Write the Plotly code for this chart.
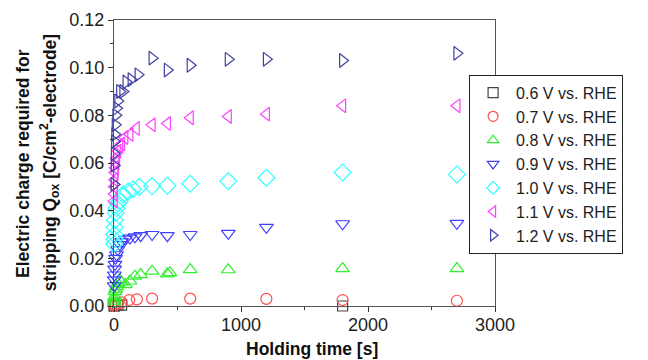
import plotly.graph_objects as go

# ---- data ----
t06 = [1, 3, 10, 30, 60, 1800]
v06 = [0.0, 0.0, 0.0002, 0.0003, 0.0004, 0.0]

t07 = [1, 3, 10, 30, 60, 120, 180, 300, 600, 1200, 1800, 2700]
v07 = [0.0, 0.0003, 0.0005, 0.001, 0.0015, 0.0025, 0.0028, 0.0031, 0.0031, 0.003, 0.0025, 0.0022]

t08 = [1, 2, 3, 5, 8, 12, 20, 30, 45, 60, 90, 125, 165, 210, 300, 420, 440, 600, 900, 1800, 2700]
v08 = [0.001, 0.002, 0.003, 0.004, 0.006, 0.007, 0.008, 0.0095, 0.011, 0.010, 0.009, 0.0105,
       0.0125, 0.0132, 0.0146, 0.0135, 0.0140, 0.0153, 0.0152, 0.0157, 0.0157]

t09 = [1, 2, 3, 5, 8, 12, 20, 30, 45, 60, 90, 125, 165, 210, 300, 420, 600, 900, 1200, 1800, 2700]
v09 = [0.0085, 0.011, 0.013, 0.0155, 0.0175, 0.020, 0.0215, 0.0237, 0.0258, 0.027, 0.028,
       0.0285, 0.029, 0.0295, 0.030, 0.0295, 0.030, 0.0305, 0.033, 0.0345, 0.0347]

t10 = [1, 2, 3, 5, 8, 12, 20, 30, 45, 70, 110, 150, 200, 300, 420, 600, 900, 1200, 1800, 2700]
v10 = [0.026, 0.028, 0.030, 0.033, 0.036, 0.039, 0.041, 0.043, 0.044, 0.0468, 0.048, 0.049,
       0.0500, 0.0503, 0.0505, 0.0513, 0.0524, 0.0538, 0.056, 0.0552]

t11 = [1, 2, 3, 5, 7, 10, 15, 20, 30, 45, 60, 85, 125, 175, 300, 420, 600, 900, 1200, 1800, 2700]
v11 = [0.044, 0.047, 0.050, 0.053, 0.056, 0.058, 0.060, 0.062, 0.065, 0.067, 0.068, 0.0707,
       0.072, 0.0745, 0.076, 0.0766, 0.079, 0.0795, 0.0805, 0.084, 0.084]

t12 = [1, 2, 3, 5, 7, 10, 15, 20, 30, 45, 70, 95, 135, 190, 300, 420, 600, 900, 1200, 1800, 2700]
v12 = [0.051, 0.059, 0.064, 0.069, 0.072, 0.076, 0.080, 0.083, 0.086, 0.090, 0.090, 0.094,
       0.095, 0.097, 0.104, 0.099, 0.101, 0.1035, 0.1035, 0.103, 0.106]

series_names = ["0.6 V vs. RHE", "0.7 V vs. RHE", "0.8 V vs. RHE", "0.9 V vs. RHE",
                "1.0 V vs. RHE", "1.1 V vs. RHE", "1.2 V vs. RHE"]
series_t = [t06, t07, t08, t09, t10, t11, t12]
series_v = [v06, v07, v08, v09, v10, v11, v12]
symbols = ["square-open", "circle-open", "triangle-up-open", "triangle-down-open",
           "diamond-open", "triangle-left-open", "triangle-right-open"]
colors = ["#444444", "#ff4d4d", "#33ee33", "#4040ff", "#33ffff", "#ff40ff", "#4040a0"]
sizes = [10, 11, 12, 12, 13, 12, 12]

FONT = "Liberation Sans, Arial, sans-serif"

fig = go.Figure()
for name, t, v, sym, col, sz in zip(series_names, series_t, series_v, symbols, colors, sizes):
    fig.add_trace(go.Scatter(
        x=t, y=v, mode="markers", name=name, showlegend=False, cliponaxis=False,
        marker=dict(symbol=sym, size=sz, color=col, line=dict(color=col, width=1.2)),
    ))
for i, (name, sym, col) in enumerate(zip(series_names, symbols, colors)):
    fig.add_trace(go.Scatter(
        x=[None], y=[None], mode="markers", name=name, legendgroup=f"g{i}",
        marker=dict(symbol=sym, size=10, color=col, line=dict(color=col, width=1.2)),
    ))

axis_font = dict(family=FONT, size=18, color="#222222")
fig.update_xaxes(
    range=[0, 3000], tickvals=[0, 1000, 2000, 3000], ticks="outside", ticklen=5,
    tickcolor="#333333", showline=True, linecolor="#555555", linewidth=1, mirror=True,
    showgrid=False, zeroline=False, tickfont=axis_font, automargin=False,
    ticklabelstandoff=-3,
    minor=dict(dtick=500, ticks="outside", ticklen=3, tickcolor="#333333", showgrid=False),
)
fig.update_yaxes(
    range=[0, 0.12], dtick=0.02, tickformat=".2f", ticks="outside", ticklen=5,
    tickcolor="#333333", showline=True, linecolor="#555555", linewidth=1, mirror=True,
    showgrid=False, zeroline=False, tickfont=axis_font, automargin=False,
    minor=dict(dtick=0.01, ticks="outside", ticklen=3, tickcolor="#333333", showgrid=False),
)

title_font = dict(family=FONT, size=17.5, color="#111111")
fig.add_annotation(text="<b>Holding time [s]</b>", xref="paper", yref="paper",
                   x=0.52, y=-0.149, xanchor="center", yanchor="middle",
                   showarrow=False, font=title_font)
fig.add_annotation(text="<b>Electric charge required for</b>", xref="paper", yref="paper",
                   x=-0.239, y=0.5, xanchor="center", yanchor="middle", textangle=-90,
                   showarrow=False, font=title_font)
fig.add_annotation(text="<b>stripping Q<sub>ox</sub> [C/cm<sup>2</sup>-electrode]</b>",
                   xref="paper", yref="paper", x=-0.170, y=0.5, xanchor="center",
                   yanchor="middle", textangle=-90, showarrow=False, font=title_font)

fig.update_layout(
    width=648, height=360,
    margin=dict(l=106, r=161, t=12, b=62),
    paper_bgcolor="white", plot_bgcolor="white",
    legend=dict(x=0.932, y=0.809, xanchor="left", yanchor="top",
                bgcolor="white", bordercolor="#222222", borderwidth=1,
                font=dict(family=FONT, size=16, color="#222222"),
                tracegroupgap=0, traceorder="grouped", itemwidth=36),
)

fig.write_html("out.html")
